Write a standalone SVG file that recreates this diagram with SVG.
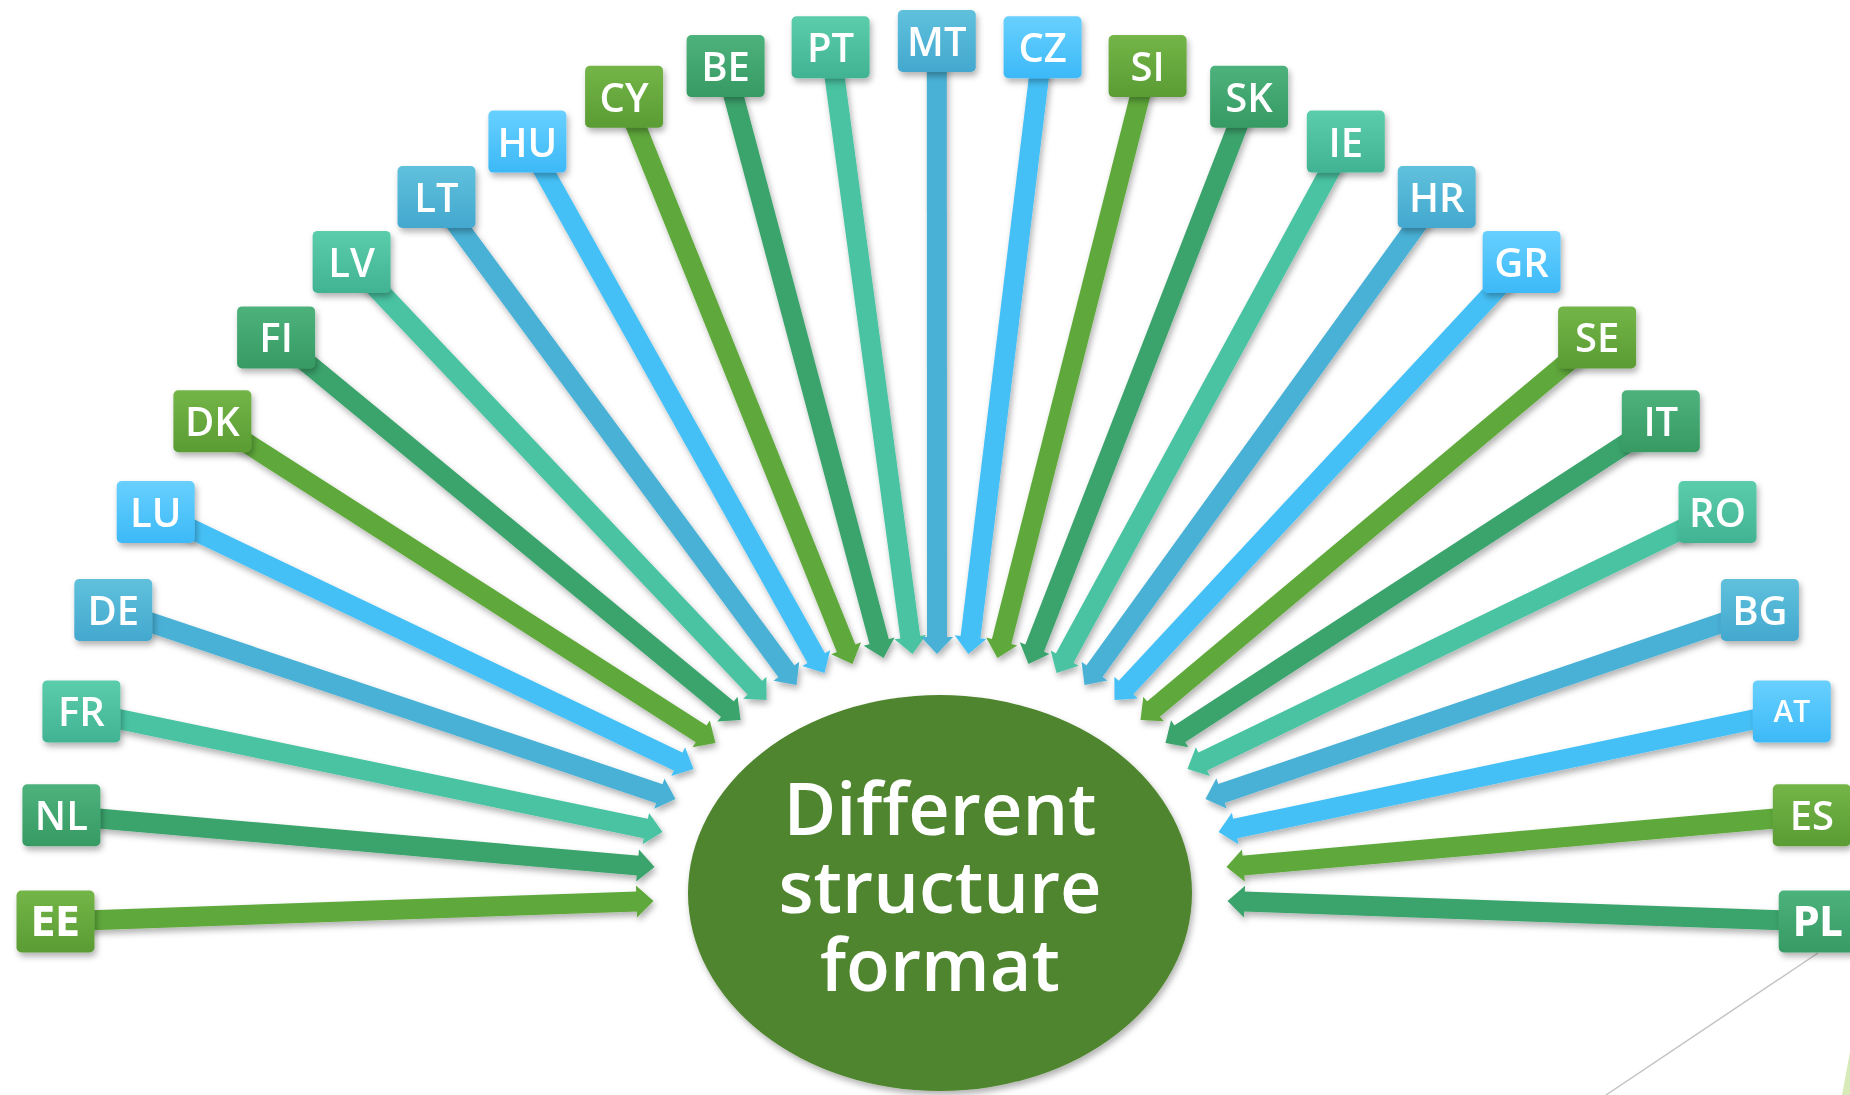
<svg xmlns="http://www.w3.org/2000/svg" width="1850" height="1095" viewBox="0 0 1850 1095">
<style>
.lbl{font-family:"Open Sans","DejaVu Sans",sans-serif;font-weight:600;font-size:40px;fill:#fff;text-anchor:middle}
.sm{font-size:30px}
.cond{font-family:"DejaVu Sans","Open Sans",sans-serif;font-stretch:condensed;font-weight:700}
.title{font-family:"Open Sans","DejaVu Sans",sans-serif;font-weight:600;font-size:72px;fill:#fff;text-anchor:middle}
.a{stroke-width:20;fill:none}
.yg{stroke:#5fa83a}.dg{stroke:#3ba36c}.te{stroke:#49c3a1}.bt{stroke:#49b1d6}.lb{stroke:#45c0f6}
.ayg{marker-end:url(#m-yg)}.adg{marker-end:url(#m-dg)}.ate{marker-end:url(#m-te)}.abt{marker-end:url(#m-bt)}.alb{marker-end:url(#m-lb)}
</style>
<defs>
<filter id="sh" x="-20%" y="-20%" width="140%" height="140%">
<feDropShadow dx="2" dy="4" stdDeviation="3" flood-color="#000" flood-opacity="0.3"/>
</filter>
<linearGradient id="g-yg" x1="0" y1="0" x2="0" y2="1"><stop offset="0" stop-color="#74b548"/><stop offset="1" stop-color="#5a9c33"/></linearGradient>
<linearGradient id="g-dg" x1="0" y1="0" x2="0" y2="1"><stop offset="0" stop-color="#4db27c"/><stop offset="1" stop-color="#369a63"/></linearGradient>
<linearGradient id="g-te" x1="0" y1="0" x2="0" y2="1"><stop offset="0" stop-color="#5bcdab"/><stop offset="1" stop-color="#41b393"/></linearGradient>
<linearGradient id="g-bt" x1="0" y1="0" x2="0" y2="1"><stop offset="0" stop-color="#60c1dc"/><stop offset="1" stop-color="#43a8cf"/></linearGradient>
<linearGradient id="g-lb" x1="0" y1="0" x2="0" y2="1"><stop offset="0" stop-color="#68d0ff"/><stop offset="1" stop-color="#3cb9f7"/></linearGradient>
<marker id="m-yg" markerUnits="userSpaceOnUse" orient="auto" markerWidth="20" markerHeight="34" refX="1" refY="17" viewBox="0 0 20 34" overflow="visible"><path d="M0,1 L17,17 L0,33 z" fill="#5fa83a"/></marker>
<marker id="m-dg" markerUnits="userSpaceOnUse" orient="auto" markerWidth="20" markerHeight="34" refX="1" refY="17" viewBox="0 0 20 34" overflow="visible"><path d="M0,1 L17,17 L0,33 z" fill="#3ba36c"/></marker>
<marker id="m-te" markerUnits="userSpaceOnUse" orient="auto" markerWidth="20" markerHeight="34" refX="1" refY="17" viewBox="0 0 20 34" overflow="visible"><path d="M0,1 L17,17 L0,33 z" fill="#49c3a1"/></marker>
<marker id="m-bt" markerUnits="userSpaceOnUse" orient="auto" markerWidth="20" markerHeight="34" refX="1" refY="17" viewBox="0 0 20 34" overflow="visible"><path d="M0,1 L17,17 L0,33 z" fill="#49b1d6"/></marker>
<marker id="m-lb" markerUnits="userSpaceOnUse" orient="auto" markerWidth="20" markerHeight="34" refX="1" refY="17" viewBox="0 0 20 34" overflow="visible"><path d="M0,1 L17,17 L0,33 z" fill="#45c0f6"/></marker>
</defs>
<rect width="1850" height="1095" fill="#fff"/>
<line x1="1818" y1="953" x2="1606" y2="1095" stroke="#c4c4c4" stroke-width="1.5"/>
<polygon points="1850,1052 1842,1095 1850,1095" fill="#d7eab8"/>
<g id="center" filter="url(#sh)">
<ellipse cx="940" cy="893" rx="252" ry="198" fill="#4f852e"/>
<text class="title" x="940" y="835">Different</text>
<text class="title" x="940" y="913">structure</text>
<text class="title" x="940" y="991">format</text>
</g>
<g id="connectors" filter="url(#sh)">
<line class="a yg ayg" x1="55.5" y1="921.5" x2="637.5" y2="901.5"/>
<line class="a dg adg" x1="61.4" y1="815.3" x2="638.6" y2="865.6"/>
<line class="a te ate" x1="81.4" y1="711.4" x2="646.8" y2="828.8"/>
<line class="a bt abt" x1="113.3" y1="610" x2="660.3" y2="793.9"/>
<line class="a lb alb" x1="155.7" y1="512" x2="679.1" y2="762.1"/>
<line class="a yg ayg" x1="212.4" y1="421.2" x2="702" y2="734.4"/>
<line class="a dg adg" x1="276.1" y1="337.4" x2="728.2" y2="709.8"/>
<line class="a te ate" x1="351.6" y1="261.9" x2="755.5" y2="688.4"/>
<line class="a bt abt" x1="436.5" y1="197" x2="787" y2="672.1"/>
<line class="a lb alb" x1="527.4" y1="141.6" x2="816.7" y2="659"/>
<line class="a yg ayg" x1="624.1" y1="96.7" x2="846.5" y2="649.2"/>
<line class="a dg adg" x1="725.6" y1="66.1" x2="879.4" y2="642.5"/>
<line class="a te ate" x1="830.6" y1="47.2" x2="910.4" y2="638.1"/>
<line class="a bt abt" x1="936.8" y1="41" x2="937" y2="638"/>
<line class="a lb alb" x1="1042.6" y1="47.2" x2="970.4" y2="638.1"/>
<line class="a yg ayg" x1="1147.6" y1="66.1" x2="1001.4" y2="642.5"/>
<line class="a dg adg" x1="1249.1" y1="96.7" x2="1034.3" y2="649.1"/>
<line class="a te ate" x1="1345.8" y1="141.6" x2="1064.2" y2="659"/>
<line class="a bt abt" x1="1436.7" y1="197" x2="1093.9" y2="672"/>
<line class="a lb alb" x1="1521.6" y1="261.9" x2="1125.4" y2="688.3"/>
<line class="a yg ayg" x1="1597.1" y1="337.4" x2="1152.8" y2="709.7"/>
<line class="a dg adg" x1="1660.8" y1="421.2" x2="1178.9" y2="734.3"/>
<line class="a te ate" x1="1717.5" y1="512" x2="1201.9" y2="762"/>
<line class="a bt abt" x1="1759.9" y1="610" x2="1220.6" y2="793.8"/>
<line class="a lb alb" x1="1791.8" y1="711.4" x2="1234.2" y2="828.7"/>
<line class="a yg ayg" x1="1811.8" y1="815.3" x2="1242.4" y2="865.6"/>
<line class="a dg adg" x1="1817.7" y1="921.5" x2="1243.5" y2="901.6"/>
</g>
<g filter="url(#sh)">
<g id="EE"><rect x="16.5" y="890.5" width="78" height="62" rx="5" fill="url(#g-yg)"/><text class="lbl cond" x="55.5" y="936">EE</text></g>
<g id="NL"><rect x="22.4" y="784.3" width="78" height="62" rx="5" fill="url(#g-dg)"/><text class="lbl" x="61.4" y="830">NL</text></g>
<g id="FR"><rect x="42.4" y="680.4" width="78" height="62" rx="5" fill="url(#g-te)"/><text class="lbl" x="81.4" y="726">FR</text></g>
<g id="DE"><rect x="74.3" y="579" width="78" height="62" rx="5" fill="url(#g-bt)"/><text class="lbl" x="113.3" y="625">DE</text></g>
<g id="LU"><rect x="116.7" y="481" width="78" height="62" rx="5" fill="url(#g-lb)"/><text class="lbl" x="155.7" y="527">LU</text></g>
<g id="DK"><rect x="173.4" y="390.2" width="78" height="62" rx="5" fill="url(#g-yg)"/><text class="lbl" x="212.4" y="436">DK</text></g>
<g id="FI"><rect x="237.1" y="306.4" width="78" height="62" rx="5" fill="url(#g-dg)"/><text class="lbl" x="276.1" y="352">FI</text></g>
<g id="LV"><rect x="312.6" y="230.9" width="78" height="62" rx="5" fill="url(#g-te)"/><text class="lbl" x="351.6" y="277">LV</text></g>
<g id="LT"><rect x="397.5" y="166" width="78" height="62" rx="5" fill="url(#g-bt)"/><text class="lbl" x="436.5" y="212">LT</text></g>
<g id="HU"><rect x="488.4" y="110.6" width="78" height="62" rx="5" fill="url(#g-lb)"/><text class="lbl" x="527.4" y="156.5">HU</text></g>
<g id="CY"><rect x="585.1" y="65.7" width="78" height="62" rx="5" fill="url(#g-yg)"/><text class="lbl" x="624.1" y="111.5">CY</text></g>
<g id="BE"><rect x="686.6" y="35.1" width="78" height="62" rx="5" fill="url(#g-dg)"/><text class="lbl" x="725.6" y="81">BE</text></g>
<g id="PT"><rect x="791.6" y="16.2" width="78" height="62" rx="5" fill="url(#g-te)"/><text class="lbl" x="830.6" y="62">PT</text></g>
<g id="MT"><rect x="897.8" y="10" width="78" height="62" rx="5" fill="url(#g-bt)"/><text class="lbl" x="936.8" y="56">MT</text></g>
<g id="CZ"><rect x="1003.6" y="16.2" width="78" height="62" rx="5" fill="url(#g-lb)"/><text class="lbl" x="1042.6" y="62">CZ</text></g>
<g id="SI"><rect x="1108.6" y="35.1" width="78" height="62" rx="5" fill="url(#g-yg)"/><text class="lbl" x="1147.6" y="81">SI</text></g>
<g id="SK"><rect x="1210.1" y="65.7" width="78" height="62" rx="5" fill="url(#g-dg)"/><text class="lbl" x="1249.1" y="111.5">SK</text></g>
<g id="IE"><rect x="1306.8" y="110.6" width="78" height="62" rx="5" fill="url(#g-te)"/><text class="lbl" x="1345.8" y="156.5">IE</text></g>
<g id="HR"><rect x="1397.7" y="166" width="78" height="62" rx="5" fill="url(#g-bt)"/><text class="lbl" x="1436.7" y="212">HR</text></g>
<g id="GR"><rect x="1482.6" y="230.9" width="78" height="62" rx="5" fill="url(#g-lb)"/><text class="lbl" x="1521.6" y="277">GR</text></g>
<g id="SE"><rect x="1558.1" y="306.4" width="78" height="62" rx="5" fill="url(#g-yg)"/><text class="lbl" x="1597.1" y="352">SE</text></g>
<g id="IT"><rect x="1621.8" y="390.2" width="78" height="62" rx="5" fill="url(#g-dg)"/><text class="lbl" x="1660.8" y="436">IT</text></g>
<g id="RO"><rect x="1678.5" y="481" width="78" height="62" rx="5" fill="url(#g-te)"/><text class="lbl" x="1717.5" y="527">RO</text></g>
<g id="BG"><rect x="1720.9" y="579" width="78" height="62" rx="5" fill="url(#g-bt)"/><text class="lbl" x="1759.9" y="625">BG</text></g>
<g id="AT"><rect x="1752.8" y="680.4" width="78" height="62" rx="5" fill="url(#g-lb)"/><text class="lbl sm" x="1791.8" y="722">AT</text></g>
<g id="ES"><rect x="1772.8" y="784.3" width="78" height="62" rx="5" fill="url(#g-yg)"/><text class="lbl" x="1811.8" y="830">ES</text></g>
<g id="PL"><rect x="1778.7" y="890.5" width="78" height="62" rx="5" fill="url(#g-dg)"/><text class="lbl cond" x="1817.7" y="936">PL</text></g>
</g>
</svg>
